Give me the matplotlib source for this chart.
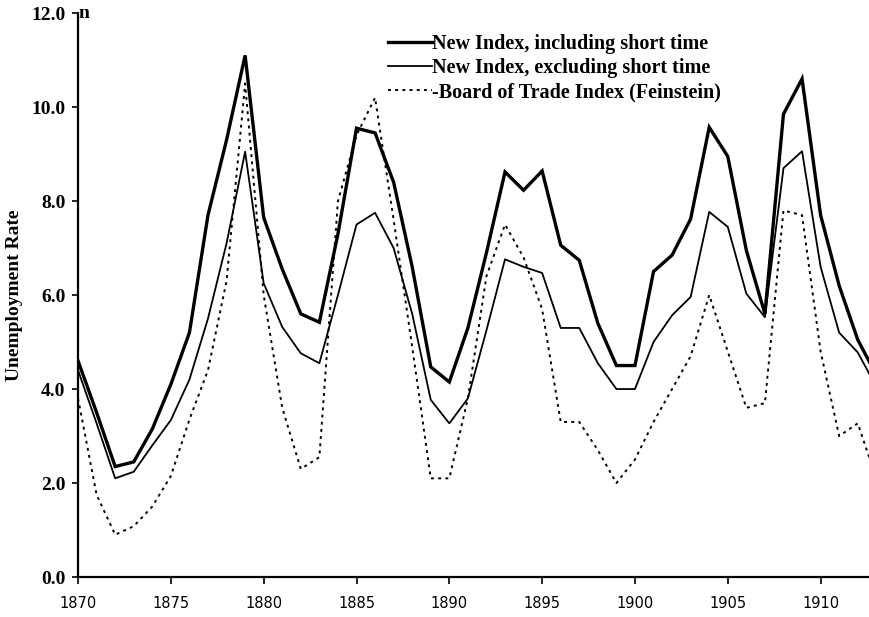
import matplotlib
matplotlib.use("Agg")
import matplotlib.pyplot as plt

years = list(range(1870, 1914))

# New Index, including short time
incl = [4.6, 3.5, 2.35, 2.45, 3.15, 4.1, 5.2, 7.7, 9.3, 11.1,
        7.65, 6.55, 5.6, 5.42, 7.3, 9.55, 9.45, 8.4, 6.6, 4.47,
        4.15, 5.3, 6.9, 8.62, 8.23, 8.64, 7.06, 6.74, 5.4, 4.5,
        4.5, 6.5, 6.85, 7.62, 9.57, 8.95, 6.95, 5.6, 9.85, 10.6,
        7.7, 6.2, 5.05, 4.3]

# New Index, excluding short time
excl = [4.4, 3.27, 2.1, 2.24, 2.8, 3.34, 4.2, 5.5, 7.1, 9.05,
        6.25, 5.32, 4.76, 4.55, 6.0, 7.5, 7.75, 7.0, 5.6, 3.77,
        3.27, 3.8, 5.25, 6.76, 6.6, 6.47, 5.3, 5.3, 4.55, 4.0,
        4.0, 5.0, 5.57, 5.96, 7.77, 7.45, 6.03, 5.53, 8.7, 9.06,
        6.6, 5.2, 4.78, 4.05]

# Board of Trade Index (Feinstein)
bot = [3.8, 1.75, 0.9, 1.08, 1.5, 2.15, 3.35, 4.4, 6.3, 10.5,
       6.0, 3.6, 2.3, 2.55, 8.0, 9.4, 10.2, 7.6, 4.9, 2.1,
       2.1, 3.8, 6.4, 7.5, 6.8, 5.7, 3.3, 3.3, 2.7, 2.0,
       2.5, 3.3, 4.0, 4.7, 6.0, 4.8, 3.6, 3.7, 7.8, 7.7,
       4.8, 3.0, 3.27, 2.1]

yticks = [0, 2, 4, 6, 8, 10, 12]
xticks = [1870, 1875, 1880, 1885, 1890, 1895, 1900, 1905, 1910]

serif = "Liberation Serif"

fig = plt.figure(figsize=(8.7, 6.17), dpi=100)
fig.set_facecolor("white")
ax = fig.add_axes([0.0897, 0.0648, 0.909, 0.914])

ax.plot(years, incl, color="black", lw=2.4, solid_joinstyle="miter",
        label="New Index, including short time")
ax.plot(years, excl, color="black", lw=1.3,
        label="New Index, excluding short time")
ax.plot(years, bot, color="black", lw=1.4, linestyle=(0, (1.5, 2.2)),
        label="-Board of Trade Index (Feinstein)")

ax.set_xlim(1870, 1912.6)
ax.set_ylim(0, 12)
ax.spines["top"].set_visible(False)
ax.spines["right"].set_visible(False)
ax.spines["left"].set_linewidth(1.6)
ax.spines["bottom"].set_linewidth(1.6)

ax.set_yticks(yticks)
ax.set_yticklabels(["%.1f" % v for v in yticks], fontfamily=serif,
                   fontweight="bold", fontsize=14)
ax.set_xticks(xticks)
ax.set_xticklabels([str(v) for v in xticks], fontfamily="DejaVu Sans",
                   fontsize=10.5)
ax.tick_params(axis="y", length=4, width=1.2, pad=5)
ax.tick_params(axis="x", length=5, width=1.2, pad=9)
ax.text(1870.0, 12, "n", fontfamily=serif, fontweight="bold", fontsize=14,
        ha="left", va="center", clip_on=False)

ax.set_ylabel("Unemployment Rate", fontfamily=serif, fontweight="bold",
              fontsize=14, labelpad=6)

ax.legend(loc="upper left", bbox_to_anchor=(0.392, 0.963), frameon=False,
          handlelength=2.2, handletextpad=0.0, labelspacing=0.21,
          borderaxespad=0, borderpad=0,
          prop={"family": serif, "weight": "bold", "size": 14.5})

fig.savefig("out.png", dpi=100)
